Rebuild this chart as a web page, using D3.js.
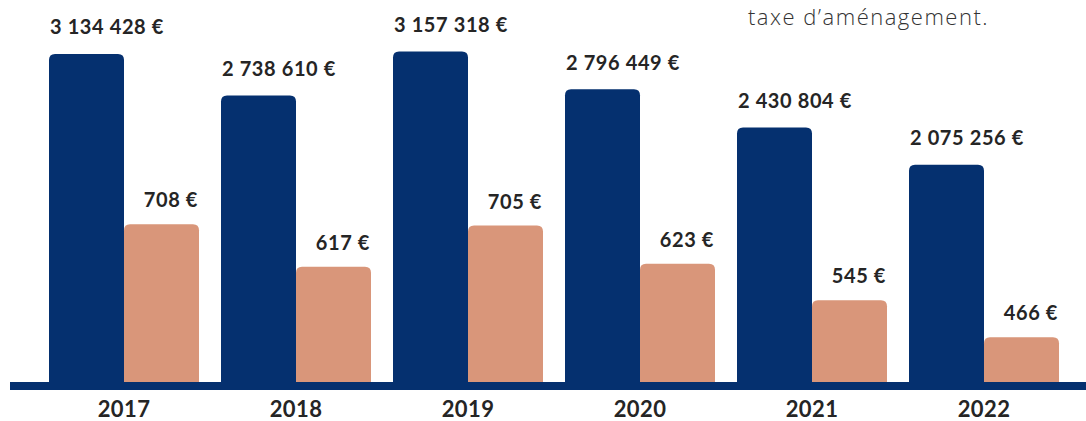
<!DOCTYPE html>
<html><head><meta charset="utf-8">
<script src="https://cdn.jsdelivr.net/npm/d3@7"></script>
<style>html,body{margin:0;padding:0;background:#fff;overflow:hidden}</style>
</head><body>
<script>
const years = ["2017","2018","2019","2020","2021","2022"];
const totalValues = [3134428, 2738610, 3157318, 2796449, 2430804, 2075256];
const perUnitValues = [708, 617, 705, 623, 545, 466];
const noteText = "taxe d’aménagement.";

const W = 1086, H = 421;
const baseY = 382;
const navy = "#05306f", salmon = "#d9967a", textCol = "#252525";
const fmt = v => d3.format(",")(v).replace(/,/g, " ") + " €";

const svg = d3.select("body").append("svg").attr("width", W).attr("height", H);

const x = d3.scaleBand().domain(years).range([38, 1070]).paddingInner(22/172).paddingOuter(11/172);
const xs = d3.scaleBand().domain(["total","unit"]).range([0, x.bandwidth()]);
const yTotal = d3.scaleLinear().domain([0, 3650000]).range([baseY, 0]);
const yUnit = d3.scaleLinear().domain([370, 1188]).range([baseY, 0]);

function topRounded(x0, y0, w, h, r) {
  r = Math.min(r, h, w/2);
  return `M${x0},${y0+h}V${y0+r}Q${x0},${y0} ${x0+r},${y0}H${x0+w-r}Q${x0+w},${y0} ${x0+w},${y0+r}V${y0+h}Z`;
}

const data = years.map((y,i) => ({year:y, total: totalValues[i], unit: perUnitValues[i]}));

const g = svg.append("g");
g.selectAll("path.total").data(data).join("path").attr("class","total")
  .attr("fill", navy)
  .attr("d", d => topRounded(x(d.year)+xs("total"), yTotal(d.total), xs.bandwidth(), baseY - yTotal(d.total), 6));
g.selectAll("path.unit").data(data).join("path").attr("class","unit")
  .attr("fill", salmon)
  .attr("d", d => topRounded(x(d.year)+xs("unit"), yUnit(d.unit), xs.bandwidth(), baseY - yUnit(d.unit), 6));

g.selectAll("text.tl").data(data).join("text").attr("class","tl")
  .attr("x", d => x(d.year)+xs("total")+1)
  .attr("y", d => yTotal(d.total) - 19.5)
  .attr("font-family","Lato").attr("font-weight",700).attr("font-size",20)
  .attr("letter-spacing", 0.6)
  .attr("fill", textCol)
  .text(d => fmt(d.total));
g.selectAll("text.ul").data(data).join("text").attr("class","ul")
  .attr("x", d => x(d.year)+xs("unit")+xs.bandwidth()-1)
  .attr("y", d => yUnit(d.unit) - 17)
  .attr("text-anchor","end")
  .attr("font-family","Lato").attr("font-weight",700).attr("font-size",20)
  .attr("letter-spacing", 0.6)
  .attr("fill", textCol)
  .text(d => fmt(d.unit));

// baseline
svg.append("rect").attr("x", 10).attr("y", baseY).attr("width", W - 10).attr("height", 8).attr("fill", navy);

// x axis labels
const ax = svg.append("g").attr("transform", `translate(0,${baseY + 8})`)
  .call(d3.axisBottom(x).tickSize(0).tickPadding(11));
ax.select(".domain").remove();
ax.selectAll("text").attr("font-family","Lato").attr("font-weight",700).attr("font-size",22)
  .attr("letter-spacing", 0.4).attr("fill", textCol);

svg.append("text").attr("x", 748).attr("y", 25)
  .attr("font-family","Open Sans").attr("font-weight",300).attr("font-size",22)
  .attr("letter-spacing", 1.5)
  .attr("fill","#333").text(noteText);
</script>
</body></html>
